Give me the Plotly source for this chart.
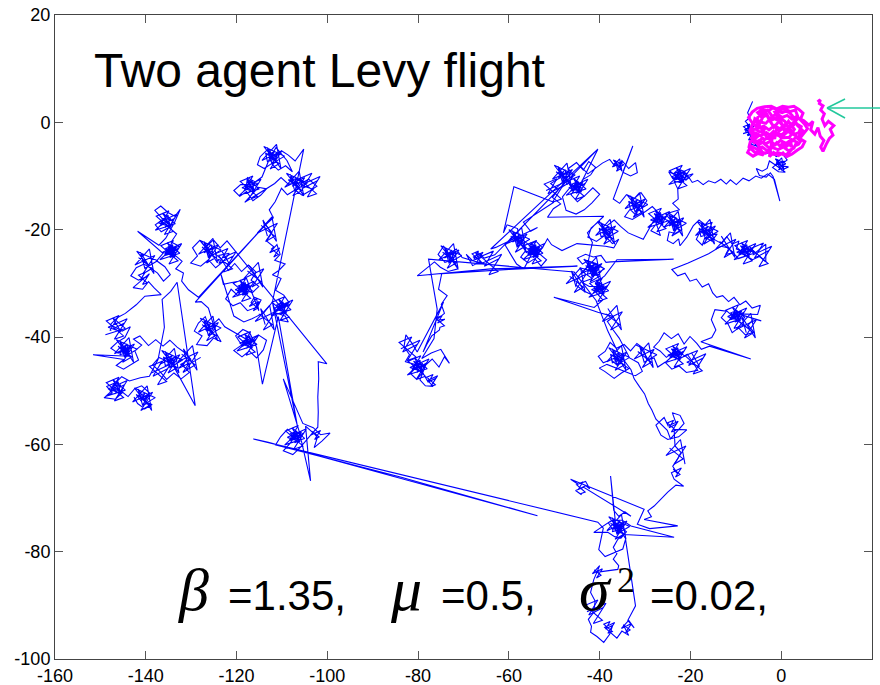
import plotly.graph_objects as go

# ---------------- data ----------------
x_ticks = [-160, -140, -120, -100, -80, -60, -40, -20, 0, 20]
y_ticks = [-100, -80, -60, -40, -20, 0, 20]
x_range = [-160, 20]
y_range = [-100, 20]

title_text = "Two agent Levy flight"

# agent 1 (blue) path
blue_path = [
    # top-right start
    (-6.3,3.9),(-7.4,1.8),(-6.9,0.9),(-7.9,0.2),(-7.1,-0.6),
    (-6.3,-1.0),(-7.9,-1.7),(-6.9,-0.3),(-8.3,-0.8),(-6.4,-2.2),(-7.4,-2.5),(-5.9,-0.5),(-8.1,-1.4),
    (-6.7,-1.8),(-7.6,-0.5),(-6.2,-1.5),(-8.4,-2.1),
    (-6.8,-1.7),(-7.5,-2.4),(-6.4,-2.1),
    (-7.2,-3.3),(-5.9,-3.0),(-6.6,-4.1),(-5.4,-4.4),(-6.1,-3.6),(-4.9,-5.0),
    (-3.4,-5.9),(-2.2,-5.5),(-1.1,-6.4),(0.2,-5.8),(1.3,-7.0),(0.4,-7.6),
    (-1.1,-7.4),(0.4,-8.4),(-0.6,-8.9),(0.7,-7.2),(-1.5,-8.1),(0.1,-6.6),(0.6,-8.9),(-0.9,-6.9),
    (-0.4,-8.4),(1.0,-7.7),(-1.3,-6.8),(-0.1,-8.1),
    (1.6,-8.3),(0.1,-8.9),(-0.8,-7.7),
    (-1.9,-8.4),(-0.6,-9.2),(0.9,-9.3),(-1.2,-8.0),(-2.6,-7.2),(-3.1,-8.6),
    (-4.2,-9.1),(-5.5,-8.6),(-4.8,-9.9),(-3.3,-10.2),(-2.4,-9.4),(-1.8,-10.1),(-0.3,-14.7),(-1.5,-10.6),
    (-3.0,-9.6),(-4.4,-10.4),(-5.6,-10.0),
    (-7.1,-10.9),(-8.4,-10.4),(-9.9,-11.6),(-11.2,-10.7),(-12.1,-11.5),(-13.3,-10.6),(-14.6,-11.3),
    (-16.0,-10.9),(-17.2,-11.6),(-18.4,-10.8),(-19.6,-11.2),(-20.3,-10.3),
    (-21.5,-9.1),(-22.6,-8.7),(-23.8,-9.6),(-24.8,-9.2),(-23.9,-10.5),(-22.4,-10.1),
    (-21.5,-9.7),(-23.1,-10.4),(-22.1,-9.0),(-23.5,-9.5),(-21.6,-10.9),(-22.6,-11.2),(-21.1,-9.2),
    (-23.3,-10.1),(-21.9,-10.5),(-22.8,-9.2),(-21.4,-10.2),(-23.6,-10.8),
    (-20.6,-9.4),(-23.8,-10.8),(-21.8,-8.0),(-24.6,-9.0),(-20.8,-11.8),(-22.8,-12.4),(-20.0,-8.6),
    (-24.2,-10.2),(-21.4,-11.0),(-23.2,-8.4),(-20.4,-10.4),(-24.8,-11.6),(-22.2,-9.6),
    (-21.0,-10.8),(-19.4,-9.6),
    (-20.6,-9.9),(-22.1,-11.2),(-23.6,-11.0),(-22.8,-12.4),(-22.7,-14.3),
    (-23.9,-15.1),(-22.4,-16.3),(-24.8,-16.9),(-23.2,-17.8),
    (-24.3,-18.6),(-22.8,-19.6),(-23.8,-20.1),(-22.5,-18.4),(-24.7,-19.3),(-23.1,-17.8),(-22.6,-20.1),
    (-24.1,-18.1),(-23.6,-19.6),(-22.2,-18.9),(-24.5,-18.0),(-23.3,-19.3),
    (-25.1,-18.2),(-22.1,-20.2),(-24.1,-21.2),(-21.5,-17.8),(-25.9,-19.6),(-22.7,-16.6),(-21.7,-21.2),
    (-24.7,-17.2),(-23.7,-20.2),(-20.9,-18.8),(-25.5,-17.0),(-23.1,-19.6),
    (-25.0,-18.6),(-23.6,-19.4),(-22.2,-18.5),
    (-21.9,-20.0),(-23.4,-20.7),(-24.7,-20.4),(-25.1,-22.0),(-23.8,-22.6),(-22.6,-21.7),(-22.3,-23.0),
    (-20.8,-21.4),(-19.4,-19.3),(-18.1,-18.2),(-16.7,-19.1),(-15.2,-18.6),(-15.9,-20.1),
    (-15.6,-20.2),(-17.2,-20.9),(-16.2,-19.5),(-17.6,-20.0),(-15.7,-21.4),(-16.7,-21.7),(-15.2,-19.7),
    (-17.4,-20.6),(-16.0,-21.0),(-16.9,-19.7),(-15.5,-20.7),(-17.7,-21.3),
    (-18.1,-19.7),(-15.1,-21.7),(-17.1,-22.7),(-14.5,-19.3),(-18.9,-21.1),(-15.7,-18.1),(-14.7,-22.7),
    (-17.7,-18.7),(-16.7,-21.7),(-13.9,-20.3),(-18.5,-18.5),(-16.1,-21.1),
    (-14.1,-20.8),(-15.3,-22.1),(-16.8,-21.4),(-17.4,-22.9),(-18.7,-21.8),(-17.9,-20.4),(-16.2,-20.0),
    (-14.6,-21.9),(-13.1,-22.6),(-12.0,-21.3),(-10.8,-22.7),(-9.3,-22.1),(-9.9,-23.6),(-8.2,-24.2),
    (-8.8,-23.6),(-7.3,-24.6),(-8.3,-25.1),(-7.0,-23.4),(-9.2,-24.3),(-7.6,-22.8),(-7.1,-25.1),(-8.6,-23.1),
    (-8.1,-24.6),(-6.7,-23.9),(-9.0,-23.0),(-7.8,-24.3),
    (-6.2,-23.4),(-9.4,-24.8),(-7.4,-22.0),(-10.2,-23.0),(-6.4,-25.8),(-8.4,-26.4),(-5.6,-22.6),
    (-9.8,-24.2),(-7.0,-25.0),(-8.8,-22.4),(-6.0,-24.4),(-10.4,-25.6),(-7.8,-23.6),
    (-7.0,-23.1),(-5.8,-24.4),(-4.6,-23.6),(-3.4,-22.7),(-3.4,-26.0),(-4.8,-25.0),(-6.3,-25.6),(-7.7,-24.9),
    (-9.4,-25.4),(-10.6,-24.3),(-12.2,-24.6),(-11.5,-23.4),(-13.3,-23.1),
    (-16.0,-24.5),(-20.5,-26.2),(-24.1,-27.4),(-22.8,-28.6),(-21.2,-28.1),(-20.1,-29.6),(-18.7,-29.2),
    (-17.4,-30.7),(-16.0,-30.1),(-15.1,-31.8),(-14.2,-32.6),
    (-12.9,-32.3),(-11.6,-33.4),(-10.4,-32.6),(-9.1,-34.0),(-7.8,-33.3),(-6.4,-34.6),(-4.6,-34.1),(-5.2,-35.8),
    (-9.1,-35.7),(-10.7,-36.4),(-9.7,-35.0),(-11.1,-35.5),(-9.2,-36.9),(-10.2,-37.2),(-8.7,-35.2),
    (-10.9,-36.1),(-9.5,-36.5),(-10.4,-35.2),(-9.0,-36.2),(-11.2,-36.8),
    (-8.2,-35.4),(-11.4,-36.8),(-9.4,-34.0),(-12.2,-35.0),(-8.4,-37.8),(-10.4,-38.4),(-7.6,-34.6),
    (-11.8,-36.2),(-9.0,-37.0),(-10.8,-34.4),(-8.0,-36.4),(-12.4,-37.6),(-9.8,-35.6),
    (-4.4,-37.0),(-6.1,-36.6),(-7.3,-37.8),(-6.0,-39.1),(-7.9,-39.6),(-9.4,-38.3),(-10.8,-39.2),(-11.7,-37.6),
    (-13.2,-36.4),(-12.1,-35.2),(-14.6,-34.9),(-15.4,-36.8),(-14.4,-38.7),(-15.3,-40.1),
    (-17.7,-40.9),(-6.7,-44.1),(-15.8,-41.7),(-17.6,-42.3),
    (-18.6,-41.2),(-20.1,-39.9),(-21.4,-41.3),(-22.7,-39.4),(-24.2,-40.3),(-25.8,-39.2),(-26.9,-40.8),
    (-28.1,-41.9),(-26.7,-42.6),(-25.3,-43.8),(-23.6,-42.7),
    (-24.0,-42.8),(-22.5,-43.8),(-23.5,-44.3),(-22.2,-42.6),(-24.4,-43.5),(-22.8,-42.0),(-22.3,-44.3),
    (-23.8,-42.3),(-23.3,-43.8),(-21.9,-43.1),(-24.2,-42.2),(-23.0,-43.5),
    (-21.4,-42.6),(-24.6,-44.0),(-22.6,-41.2),(-25.4,-42.2),(-21.6,-45.0),(-23.6,-45.6),(-20.8,-41.8),
    (-25.0,-43.4),(-22.2,-44.2),(-24.0,-41.6),(-21.2,-43.6),(-25.6,-44.8),(-23.0,-42.8),
    (-22.4,-44.1),(-20.7,-43.2),(-19.3,-44.9),
    (-18.4,-46.2),(-20.9,-46.6),(-22.5,-45.4),(-24.1,-46.0),(-25.6,-44.7),(-27.2,-45.6),(-28.0,-43.9),
    (-29.6,-44.3),(-30.4,-42.1),(-31.8,-41.2),(-33.2,-42.6),(-34.6,-41.4),(-36.3,-42.1),(-37.7,-41.0),
    (-38.8,-42.7),(-40.3,-43.6),(-39.2,-44.8),(-37.5,-44.2),(-36.1,-45.3),(-34.8,-44.1),
    (-35.1,-43.7),(-36.7,-44.4),(-35.7,-43.0),(-37.1,-43.5),(-35.2,-44.9),(-36.2,-45.2),(-34.7,-43.2),
    (-36.9,-44.1),(-35.5,-44.5),(-36.4,-43.2),(-35.0,-44.2),(-37.2,-44.8),
    (-37.6,-43.2),(-34.6,-45.2),(-36.6,-46.2),(-34.0,-42.8),(-38.4,-44.6),(-35.2,-41.6),(-34.2,-46.2),
    (-37.2,-42.2),(-36.2,-45.2),(-33.4,-43.8),(-38.0,-42.0),(-35.6,-44.6),
    (-33.6,-45.9),(-35.2,-46.7),(-36.8,-47.7),(-38.9,-46.4),(-40.1,-45.8),(-38.4,-45.1),(-32.1,-47.2),
    (-30.6,-46.4),(-31.5,-44.8),(-33.4,-43.9),
    (-35.7,-40.2),(-37.1,-38.6),(-38.3,-37.1),(-36.9,-36.2),(-40.4,-35.4),(-50.1,-32.6),(-41.2,-34.5),
    (-39.3,-33.1),(-40.8,-31.7),
    (-40.8,-30.6),(-39.3,-31.6),(-40.3,-32.1),(-39.0,-30.4),(-41.2,-31.3),(-39.6,-29.8),(-39.1,-32.1),
    (-40.6,-30.1),(-40.1,-31.6),(-38.7,-30.9),(-41.0,-30.0),(-39.8,-31.3),
    (-38.2,-30.4),(-41.4,-31.8),(-39.4,-29.0),(-42.2,-30.0),(-38.4,-32.8),(-40.4,-33.4),(-37.6,-29.6),
    (-41.8,-31.2),(-39.0,-32.0),(-40.8,-29.4),(-38.0,-31.4),(-42.4,-32.6),(-39.8,-30.6),
    (-42.3,-30.6),(-43.9,-29.8),(-41.6,-29.1),(-43.2,-28.2),(-44.4,-27.1),(-42.0,-27.6),
    (-40.6,-27.2),(-42.2,-27.9),(-41.2,-26.5),(-42.6,-27.0),(-40.7,-28.4),(-41.7,-28.7),(-40.2,-26.7),
    (-42.4,-27.6),(-41.0,-28.0),(-41.9,-26.7),(-40.5,-27.7),(-42.7,-28.3),
    (-42.3,-27.1),(-40.8,-28.1),(-41.8,-28.6),(-40.5,-26.9),(-42.7,-27.8),(-41.1,-26.3),(-40.6,-28.6),
    (-42.1,-26.6),(-41.6,-28.1),(-40.2,-27.4),(-42.5,-26.5),(-41.3,-27.8),
    (-43.1,-26.7),(-40.1,-28.7),(-42.1,-29.7),(-39.5,-26.3),(-43.9,-28.1),(-40.7,-25.1),(-39.7,-29.7),
    (-42.7,-25.7),(-41.7,-28.7),(-38.9,-27.3),(-43.5,-25.5),(-41.1,-28.1),
    (-40.3,-28.4),(-39.1,-27.2),(-40.8,-26.3),(-42.6,-25.8),(-43.8,-26.4),(-44.9,-25.3),(-43.1,-24.6),
    (-41.4,-25.1),(-39.7,-24.8),(-38.6,-26.1),(-37.6,-26.0),(-23.7,-25.5),(-36.2,-25.6),(-38.9,-28.6),
    (-40.9,-29.9),(-39.6,-30.8),(-41.8,-32.1),(-43.6,-31.4),(-45.2,-30.3),(-44.6,-28.6),(-42.8,-27.0),
    (-41.6,-22.4),(-42.7,-20.6),(-41.2,-19.2),(-39.1,-17.5),(-51.5,-17.7),(-50.2,-16.1),
    (-48.6,-15.2),(-50.4,-14.0),(-49.1,-12.6),(-50.8,-11.4),(-48.7,-10.3),
    (-48.8,-9.6),(-47.3,-10.6),(-48.3,-11.1),(-47.0,-9.4),(-49.2,-10.3),(-47.6,-8.8),(-47.1,-11.1),
    (-48.6,-9.1),(-48.1,-10.6),(-46.7,-9.9),(-49.0,-9.0),(-47.8,-10.3),
    (-49.6,-9.2),(-46.6,-11.2),(-48.6,-12.2),(-46.0,-8.8),(-50.4,-10.6),(-47.2,-7.6),(-46.2,-12.2),
    (-49.2,-8.2),(-48.2,-11.2),(-45.4,-9.8),(-50.0,-8.0),(-47.6,-10.6),
    (-47.2,-11.6),(-45.8,-10.0),
    (-46.9,-8.6),(-45.1,-7.5),(-43.6,-8.9),(-42.4,-7.3),(-40.9,-8.4),(-42.0,-9.8),(-43.8,-10.7),(-44.6,-12.4),
    (-44.1,-11.7),(-45.7,-12.4),(-44.7,-11.0),(-46.1,-11.5),(-44.2,-12.9),(-45.2,-13.2),(-43.7,-11.2),
    (-45.9,-12.1),(-44.5,-12.5),(-45.4,-11.2),(-44.0,-12.2),(-46.2,-12.8),
    (-43.2,-11.4),(-46.4,-12.8),(-44.4,-10.0),(-47.2,-11.0),(-43.4,-13.8),(-45.4,-14.4),(-42.6,-10.6),
    (-46.8,-12.2),(-44.0,-13.0),(-45.8,-10.4),(-43.0,-12.4),(-47.4,-13.6),(-44.8,-11.6),
    (-46.3,-13.5),(-44.9,-14.8),(-43.2,-13.6),(-41.5,-12.2),(-40.0,-13.4),(-41.7,-15.0),(-43.4,-16.3),
    (-45.2,-17.1),(-47.4,-16.4),(-48.2,-13.9),(-46.4,-12.0),(-44.2,-11.5),
    (-40.4,-5.0),(-44.2,-8.2),(-42.6,-9.6),
    (-39.4,-7.6),(-37.8,-6.9),(-36.6,-8.2),
    (-36.8,-7.6),(-35.3,-8.6),(-36.3,-9.1),(-35.0,-7.4),(-37.2,-8.3),(-35.6,-6.8),(-35.1,-9.1),(-36.6,-7.1),
    (-36.1,-8.6),(-34.7,-7.9),(-37.0,-7.0),(-35.8,-8.3),
    (-35.1,-7.1),(-33.6,-8.6),(-32.1,-7.5),(-31.7,-9.4),(-33.2,-10.0),
    (-34.9,-9.3),(-32.7,-4.4),(-37.0,-14.3),
    (-35.6,-15.1),(-34.1,-13.5),(-32.4,-14.2),(-30.9,-13.1),(-29.6,-14.6),(-30.7,-16.0),
    (-31.1,-15.2),(-32.7,-15.9),(-31.7,-14.5),(-33.1,-15.0),(-31.2,-16.4),(-32.2,-16.7),(-30.7,-14.7),
    (-32.9,-15.6),(-31.5,-16.0),(-32.4,-14.7),(-31.0,-15.7),(-33.2,-16.3),
    (-33.6,-14.7),(-30.6,-16.7),(-32.6,-17.7),(-30.0,-14.3),(-34.4,-16.1),(-31.2,-13.1),(-30.2,-17.7),
    (-33.2,-13.7),(-32.2,-16.7),(-29.4,-15.3),(-34.0,-13.5),(-31.6,-16.1),
    (-31.9,-17.4),(-33.3,-16.2),(-34.5,-17.6),(-32.8,-18.1),
    (-29.9,-16.6),(-28.4,-15.7),(-27.0,-16.9),(-26.1,-18.3),
    (-27.8,-17.6),(-26.3,-18.6),(-27.3,-19.1),(-26.0,-17.4),(-28.2,-18.3),(-26.6,-16.8),(-26.1,-19.1),
    (-27.6,-17.1),(-27.1,-18.6),(-25.7,-17.9),(-28.0,-17.0),(-26.8,-18.3),
    (-25.2,-17.4),(-28.4,-18.8),(-26.4,-16.0),(-29.2,-17.0),(-25.4,-19.8),(-27.4,-20.4),(-24.6,-16.6),
    (-28.8,-18.2),(-26.0,-19.0),(-27.8,-16.4),(-25.0,-18.4),(-29.4,-19.6),(-26.8,-17.6),
    (-27.6,-19.0),(-28.7,-20.2),(-26.6,-21.1),(-27.9,-18.0),
    (-30.4,-21.8),(-33.7,-20.6),(-35.4,-19.4),(-36.8,-18.2),(-38.4,-19.3),
    (-37.6,-20.2),(-39.2,-20.9),(-38.2,-19.5),(-39.6,-20.0),(-37.7,-21.4),(-38.7,-21.7),(-37.2,-19.7),
    (-39.4,-20.6),(-38.0,-21.0),(-38.9,-19.7),(-37.5,-20.7),(-39.7,-21.3),
    (-40.1,-19.7),(-37.1,-21.7),(-39.1,-22.7),(-36.5,-19.3),(-40.9,-21.1),(-37.7,-18.1),(-36.7,-22.7),
    (-39.7,-18.7),(-38.7,-21.7),(-35.9,-20.3),(-40.5,-18.5),(-38.1,-21.1),
    (-40.1,-18.4),(-41.9,-19.7),
    (-42.6,-21.4),(-40.7,-22.2),(-38.9,-21.1),(-37.2,-22.6),(-35.8,-21.8),(-36.9,-23.4),(-38.7,-23.1),
    (-45.0,-22.6),(-48.3,-23.9),(-50.6,-22.8),(-51.5,-21.7),
    (-52.6,-23.4),(-54.1,-22.1),(-55.6,-23.0),
    (-53.6,-23.7),(-55.2,-24.4),(-54.2,-23.0),(-55.6,-23.5),(-53.7,-24.9),(-54.7,-25.2),(-53.2,-23.2),
    (-55.4,-24.1),(-54.0,-24.5),(-54.9,-23.2),(-53.5,-24.2),(-55.7,-24.8),
    (-55.3,-23.6),(-53.8,-24.6),(-54.8,-25.1),(-53.5,-23.4),(-55.7,-24.3),(-54.1,-22.8),(-53.6,-25.1),
    (-55.1,-23.1),(-54.6,-24.6),(-53.2,-23.9),(-55.5,-23.0),(-54.3,-24.3),
    (-52.7,-23.4),(-55.9,-24.8),(-53.9,-22.0),(-56.7,-23.0),(-52.9,-25.8),(-54.9,-26.4),(-52.1,-22.6),
    (-56.3,-24.2),(-53.5,-25.0),(-55.3,-22.4),(-52.5,-24.4),(-56.9,-25.6),(-54.3,-23.6),
    (-57.2,-21.8),(-56.3,-23.9),(-57.4,-25.1),(-55.8,-26.2),
    (-54.3,-25.4),(-52.9,-26.8),(-51.7,-25.6),(-53.4,-24.4),(-55.0,-24.6),(-56.7,-27.3),(-58.3,-26.4),
    (-59.6,-24.6),(-60.8,-22.9),(-59.4,-21.4),
    (-58.8,-21.6),(-57.3,-22.6),(-58.3,-23.1),(-57.0,-21.4),(-59.2,-22.3),(-57.6,-20.8),(-57.1,-23.1),
    (-58.6,-21.1),(-58.1,-22.6),(-56.7,-21.9),(-59.0,-21.0),(-57.8,-22.3),
    (-59.6,-21.2),(-56.6,-23.2),(-58.6,-24.2),(-56.0,-20.8),(-60.4,-22.6),(-57.2,-19.6),(-56.2,-24.2),
    (-59.2,-20.2),(-58.2,-23.2),(-55.4,-21.8),(-60.0,-20.0),(-57.6,-22.6),
    (-58.1,-19.8),(-60.4,-19.1),(-61.2,-20.6),(-58.9,-12.0),
    (-50.1,-14.9),(-56.8,-18.6),(-55.2,-20.3),(-53.7,-19.6),
    (-62.9,-23.3),(-64.0,-23.6),(-40.4,-5.0),(-63.1,-24.7),
    (-65.4,-25.3),(-66.8,-24.3),
    (-66.1,-24.7),(-67.7,-25.4),(-66.7,-24.0),(-68.1,-24.5),(-66.2,-25.9),(-67.2,-26.2),(-65.7,-24.2),
    (-67.9,-25.1),(-66.5,-25.5),(-67.4,-24.2),(-66.0,-25.2),(-68.2,-25.8),
    (-68.2,-25.6),(-69.4,-24.6),(-68.0,-26.7),(-66.3,-26.0),(-64.8,-26.6),
    (-70.3,-25.2),(-71.6,-23.6),(-73.1,-24.5),
    (-73.8,-24.6),(-72.3,-25.6),(-73.3,-26.1),(-72.0,-24.4),(-74.2,-25.3),(-72.6,-23.8),(-72.1,-26.1),
    (-73.6,-24.1),(-73.1,-25.6),(-71.7,-24.9),(-74.0,-24.0),(-72.8,-25.3),
    (-74.6,-24.2),(-71.6,-26.2),(-73.6,-27.2),(-71.0,-23.8),(-75.4,-25.6),(-72.2,-22.6),(-71.2,-27.2),
    (-74.2,-23.2),(-73.2,-26.2),(-70.4,-24.8),(-75.0,-23.0),(-72.6,-25.6),
    (-74.4,-23.1),(-75.6,-24.6),(-74.1,-26.1),(-72.6,-25.7),
    (-71.2,-27.3),(-73.4,-27.8),(-75.1,-27.0),(-76.4,-26.0),
    (-80.2,-28.6),(-64.0,-27.3),(-44.9,-26.8),(-60.0,-27.4),(-74.8,-28.2),
    (-75.5,-31.1),(-73.6,-32.3),(-74.9,-33.9),(-74.2,-35.6),(-76.1,-36.9),
    (-74.1,-36.7),(-75.7,-37.4),(-74.7,-36.0),(-76.1,-36.5),(-74.2,-37.9),(-75.2,-38.2),
    (-75.3,-38.7),(-77.0,-39.8),
    (-78.1,-41.4),(-78.9,-42.8),(-74.4,-33.5),(-80.2,-42.8),
    (-81.4,-41.1),(-82.7,-39.6),(-83.1,-41.8),(-81.9,-43.3),(-82.8,-44.6),(-80.9,-45.2),
    (-80.8,-45.1),(-79.3,-46.1),(-80.3,-46.6),(-79.0,-44.9),(-81.2,-45.8),(-79.6,-44.3),(-79.1,-46.6),
    (-80.6,-44.6),(-80.1,-46.1),(-78.7,-45.4),(-81.0,-44.5),(-79.8,-45.8),
    (-78.2,-44.9),(-81.4,-46.3),(-79.4,-43.5),(-82.2,-44.5),(-78.4,-47.3),(-80.4,-47.9),(-77.6,-44.1),
    (-81.8,-45.7),(-79.0,-46.5),(-80.8,-43.9),(-78.0,-45.9),(-82.4,-47.1),(-79.8,-45.1),
    (-81.7,-46.8),(-80.3,-47.9),(-79.0,-46.6),(-77.8,-48.4),
    (-76.1,-47.7),(-77.7,-48.4),(-76.7,-47.0),(-78.1,-47.5),(-76.2,-48.9),(-77.2,-49.2),(-75.7,-47.2),(-77.9,-48.1),
    (-76.7,-49.2),(-78.4,-49.1),(-79.6,-48.0),(-78.3,-45.2),
    (-76.9,-44.1),(-75.4,-45.6),(-74.2,-43.7),(-73.1,-44.9),(-75.0,-42.3),(-77.1,-43.0),(-79.2,-44.0),
    (-76.5,-40.3),(-75.8,-34.8),(-77.7,-25.5),(-45.6,-27.9),(-40.8,-33.2),(-38.2,-38.9),(-36.0,-42.8),
    (-33.1,-46.1),(-32.4,-47.8),
    (-31.2,-49.3),(-30.1,-50.6),(-29.3,-52.4),(-28.5,-53.6),(-27.6,-55.3),(-26.4,-56.3),(-25.1,-57.4),(-24.4,-59.0),
    (-23.1,-57.8),(-21.4,-56.1),(-22.3,-54.6),(-24.0,-54.1),
    (-23.1,-56.2),(-24.7,-56.9),(-23.7,-55.5),(-25.1,-56.0),(-23.2,-57.4),(-24.2,-57.7),(-22.7,-55.7),(-24.9,-56.6),
    (-25.8,-55.0),(-27.6,-56.4),(-26.5,-58.3),
    (-25.0,-59.1),(-22.6,-58.6),(-20.8,-57.3),(-23.6,-57.2),
    (-23.4,-60.3),(-22.1,-61.5),(-22.8,-62.7),(-23.9,-64.1),(-22.9,-65.4),
    (-23.8,-64.6),(-22.3,-65.6),(-23.3,-66.1),(-22.0,-64.4),(-24.2,-65.3),
    (-23.6,-66.5),(-21.5,-67.8),
    (-23.2,-67.6),(-25.0,-68.9),(-26.4,-70.2),(-28.0,-71.5),(-29.4,-72.4),(-28.6,-73.5),(-30.2,-74.0),
    (-22.8,-75.2),(-29.0,-75.7),(-31.7,-74.9),
    (-30.2,-72.1),(-46.4,-66.5),(-44.8,-67.4),(-43.1,-66.9),(-42.2,-68.3),
    (-43.1,-67.7),(-44.7,-68.4),(-43.7,-67.0),(-45.1,-67.5),(-43.2,-68.9),(-44.2,-69.2),
    (-44.0,-69.4),(-45.3,-68.6),(-43.5,-68.0),(-33.1,-73.4),
    (-34.4,-72.6),(-35.8,-73.4),(-36.9,-72.3),(-37.6,-65.9),(-36.6,-73.9),(-38.1,-74.6),(-37.2,-75.8),
    (-35.1,-75.2),(-36.7,-75.9),(-35.7,-74.5),(-37.1,-75.0),(-35.2,-76.4),(-36.2,-76.7),(-34.7,-74.7),
    (-36.9,-75.6),(-35.5,-76.0),(-36.4,-74.7),(-35.0,-75.7),(-37.2,-76.3),
    (-36.8,-75.1),(-35.3,-76.1),(-36.3,-76.6),(-35.0,-74.9),(-37.2,-75.8),(-35.6,-74.3),(-35.1,-76.6),
    (-36.6,-74.6),(-36.1,-76.1),(-34.7,-75.4),(-37.0,-74.5),(-35.8,-75.8),
    (-37.6,-74.7),(-34.6,-76.7),(-36.6,-77.7),(-34.0,-74.3),(-38.4,-76.1),(-35.2,-73.1),(-34.2,-77.7),
    (-37.2,-73.7),(-36.2,-76.7),(-33.4,-75.3),(-38.0,-73.5),(-35.6,-76.1),
    (-35.6,-75.2),(-34.1,-76.3),(-35.3,-77.5),(-36.7,-77.2),(-38.2,-76.4),(-41.3,-76.4),(-37.4,-74.2),
    (-35.1,-74.1),(-33.1,-75.2),(-23.6,-77.3),(-34.6,-76.8),(-36.0,-77.7),
    (-37.0,-79.2),(-36.2,-80.4),(-37.0,-81.4),(-35.8,-82.6),(-36.0,-83.3),(-38.1,-83.5),(-40.4,-83.8),
    (-41.2,-83.4),(-39.7,-84.4),(-40.7,-84.9),(-39.4,-83.2),(-41.6,-84.1),(-40.0,-82.6),
    (-41.3,-85.2),(-42.0,-87.6),(-41.0,-89.2),(-41.3,-91.3),(-42.5,-92.6),(-41.8,-93.9),(-42.0,-95.0),
    (-40.6,-95.8),(-39.1,-96.9),(-37.8,-95.4),
    (-37.1,-93.7),(-38.7,-94.4),(-37.7,-93.0),(-39.1,-93.5),(-37.2,-94.9),(-38.2,-95.2),(-36.7,-93.2),(-38.9,-94.1),
    (-36.2,-96.1),(-35.1,-94.8),(-33.6,-95.6),
    (-34.8,-93.6),(-33.3,-94.6),(-34.3,-95.1),(-33.0,-93.4),(-35.2,-94.3),(-33.6,-92.8),
    (-32.4,-94.2),(-33.8,-92.8),(-32.1,-90.1),(-34.3,-77.7),(-34.9,-79.5),(-38.8,-80.9),(-40.2,-79.6),
    (-39.2,-75.6),(-40.4,-74.5),(-116.3,-59.0),(-113.0,-59.6),(-53.7,-73.3),(-83.9,-66.1),(-111.4,-60.1),
    # left structure
    (-110.3,-58.6),(-108.8,-57.2),(-107.1,-58.4),
    (-106.1,-58.2),(-107.7,-58.9),(-106.7,-57.5),(-108.1,-58.0),(-106.2,-59.4),(-107.2,-59.7),(-105.7,-57.7),
    (-107.9,-58.6),(-106.5,-59.0),(-107.4,-57.7),(-106.0,-58.7),(-108.2,-59.3),
    (-105.2,-57.9),(-108.4,-59.3),(-106.4,-56.5),(-109.2,-57.5),(-105.4,-60.3),(-107.4,-60.9),(-104.6,-57.1),
    (-108.8,-58.7),(-106.0,-59.5),(-107.8,-56.9),(-105.0,-58.9),(-109.4,-60.1),(-106.8,-58.1),
    (-108.3,-59.9),(-109.7,-61.2),(-107.6,-61.9),(-106.0,-60.6),
    (-104.6,-59.1),(-103.2,-57.8),(-104.8,-56.6),(-103.7,-66.8),(-106.2,-57.6),(-109.7,-47.8),(-105.4,-56.1),
    (-103.1,-56.9),(-101.5,-58.2),(-99.4,-57.9),(-101.2,-59.4),(-102.9,-60.6),(-102.2,-58.7),
    (-103.3,-57.6),(-101.8,-58.6),(-102.8,-59.1),(-101.5,-57.4),(-103.7,-58.3),(-102.1,-56.8),
    (-102.0,-54.0),(-102.1,-51.2),(-101.9,-47.8),(-102.0,-44.6),
    (-100.1,-45.0),(-122.1,-22.1),
    (-123.6,-23.4),(-125.1,-21.9),(-126.6,-23.1),
    (-126.8,-23.6),(-125.3,-24.6),(-126.3,-25.1),(-125.0,-23.4),(-127.2,-24.3),(-125.6,-22.8),(-125.1,-25.1),
    (-126.6,-23.1),(-126.1,-24.6),
    (-127.6,-23.2),(-124.6,-25.2),(-126.6,-26.2),(-124.0,-22.8),(-128.4,-24.6),(-125.2,-21.6),(-124.2,-26.2),
    (-127.2,-22.2),(-126.2,-25.2),(-123.4,-23.8),(-128.0,-22.0),(-125.6,-24.6),
    (-128.1,-22.0),(-129.7,-23.4),(-128.6,-24.9),(-130.1,-26.2),
    (-127.9,-26.8),(-126.2,-25.6),(-124.6,-27.1),(-122.9,-25.9),(-121.6,-24.4),(-123.9,-24.8),
    (-121.8,-27.6),(-120.4,-26.3),(-118.9,-27.8),(-117.4,-26.6),(-115.7,-27.9),(-116.8,-29.4),(-115.1,-30.6),
    (-116.6,-31.8),(-118.3,-30.7),
    (-117.6,-30.7),(-119.2,-31.4),(-118.2,-30.0),(-119.6,-30.5),(-117.7,-31.9),(-118.7,-32.2),(-117.2,-30.2),
    (-119.4,-31.1),(-118.0,-31.5),(-118.9,-30.2),(-117.5,-31.2),(-119.7,-31.8),
    (-119.3,-30.6),(-117.8,-31.6),(-118.8,-32.1),(-117.5,-30.4),(-119.7,-31.3),(-118.1,-29.8),(-117.6,-32.1),
    (-119.1,-30.1),(-118.6,-31.6),
    (-116.7,-30.4),(-119.9,-31.8),(-117.9,-29.0),(-120.7,-30.0),(-116.9,-32.8),(-118.9,-33.4),(-116.1,-29.6),
    (-120.3,-31.2),(-117.5,-32.0),(-119.3,-29.4),(-116.5,-31.4),(-120.9,-32.6),(-118.3,-30.6),
    (-119.7,-32.3),(-121.2,-31.1),(-122.4,-32.9),(-120.8,-34.2),(-119.2,-33.6),
    (-117.6,-35.1),(-115.4,-34.4),(-114.6,-33.1),(-116.1,-32.6),
    (-116.8,-33.6),(-115.3,-34.6),(-116.3,-35.1),(-115.0,-33.4),(-117.2,-34.3),(-115.6,-32.8),(-115.1,-35.1),
    (-117.8,-29.1),(-119.6,-29.6),(-121.3,-29.9),
    (-122.9,-30.2),(-123.4,-28.4),(-120.6,-36.1),(-118.4,-37.2),(-116.6,-36.6),(-114.0,-35.5),(-112.1,-33.5),
    (-105.2,-5.0),(-107.1,-7.2),
    (-108.6,-6.1),(-110.1,-5.3),(-111.7,-6.5),
    (-111.1,-6.2),(-112.7,-6.9),(-111.7,-5.5),(-113.1,-6.0),(-111.2,-7.4),(-112.2,-7.7),(-110.7,-5.7),
    (-112.9,-6.6),(-111.5,-7.0),(-112.4,-5.7),(-111.0,-6.7),(-113.2,-7.3),
    (-113.6,-5.7),(-110.6,-7.7),(-112.6,-8.7),(-110.0,-5.3),(-114.4,-7.1),(-111.2,-4.1),(-110.2,-8.7),
    (-113.2,-4.7),(-112.2,-7.7),(-109.4,-6.3),(-114.0,-4.5),(-111.6,-7.1),
    (-113.2,-5.1),(-114.8,-6.4),(-115.4,-7.9),(-113.9,-8.6),
    (-112.3,-7.7),(-110.8,-8.9),(-109.2,-8.1),(-107.7,-9.2),(-108.9,-7.1),(-111.3,-4.7),(-112.8,-6.9),
    (-114.4,-10.2),(-115.9,-11.1),(-117.6,-10.3),
    (-117.8,-11.6),(-116.3,-12.6),(-117.3,-13.1),(-116.0,-11.4),(-118.2,-12.3),(-116.6,-10.8),(-116.1,-13.1),(-117.6,-11.1),
    (-115.2,-11.4),(-118.4,-12.8),(-116.4,-10.0),(-119.2,-11.0),(-115.4,-13.8),(-117.4,-14.4),(-114.6,-10.6),
    (-118.8,-12.2),(-116.0,-13.0),(-117.8,-10.4),(-115.0,-12.4),(-119.4,-13.6),(-116.8,-11.6),
    (-119.1,-11.6),(-120.6,-12.7),(-119.3,-13.8),(-117.8,-12.9),
    (-116.4,-14.6),(-114.7,-13.6),(-113.4,-12.4),(-115.2,-12.1),(-118.2,-14.9),
    (-111.6,-11.4),(-110.2,-10.3),(-108.6,-11.5),
    (-106.1,-11.2),(-107.7,-11.9),(-106.7,-10.5),(-108.1,-11.0),(-106.2,-12.4),(-107.2,-12.7),(-105.7,-10.7),
    (-108.6,-10.7),(-105.6,-12.7),(-107.6,-13.7),(-105.0,-10.3),(-109.4,-12.1),(-106.2,-9.1),(-105.2,-13.7),
    (-108.2,-9.7),(-107.2,-12.7),(-104.4,-11.3),(-109.0,-9.5),(-106.6,-12.1),
    (-107.2,-10.1),(-105.6,-11.3),(-104.1,-10.6),(-102.3,-11.9),
    (-103.9,-12.8),(-105.5,-13.6),(-107.1,-12.6),(-108.8,-13.5),(-110.1,-12.3),
    (-111.5,-14.8),(-112.8,-16.3),(-111.9,-17.8),(-113.6,-19.1),(-112.2,-20.6),(-113.4,-22.1),(-111.8,-23.2),
    (-112.3,-23.6),(-110.8,-24.6),(-111.8,-25.1),(-110.5,-23.4),(-112.7,-24.3),(-111.1,-22.8),
    (-110.4,-24.6),(-111.6,-25.7),(-109.3,-26.4),(-110.7,-27.6),(-112.1,-28.4),(-110.2,-29.1),
    (-111.4,-31.3),(-109.6,-32.2),(-108.4,-33.6),(-110.1,-34.6),
    (-109.1,-34.2),(-110.7,-34.9),(-109.7,-33.5),(-111.1,-34.0),(-109.2,-35.4),(-110.2,-35.7),(-108.7,-33.7),(-110.9,-34.6),
    (-108.2,-33.9),(-111.4,-35.3),(-109.4,-32.5),(-112.2,-33.5),(-108.4,-36.3),(-110.4,-36.9),(-107.6,-33.1),
    (-111.8,-34.7),(-109.0,-35.5),(-110.8,-32.9),(-108.0,-34.9),(-112.4,-36.1),(-109.8,-34.1),
    (-111.8,-35.4),(-109.3,-36.1),(-108.6,-37.2),
    (-110.9,-36.8),(-112.1,-33.5),
    (-106.6,-56.6),(-110.8,-36.2),(-114.3,-48.8),(-115.6,-41.9),
    (-117.1,-39.2),(-118.6,-38.6),(-120.2,-39.8),(-119.1,-41.2),
    (-118.3,-40.6),(-116.8,-41.6),(-117.8,-42.1),(-116.5,-40.4),(-118.7,-41.3),(-117.1,-39.8),(-116.6,-42.1),
    (-118.1,-40.1),(-117.6,-41.6),
    (-115.7,-40.4),(-118.9,-41.8),(-116.9,-39.0),(-119.7,-40.0),(-115.9,-42.8),(-117.9,-43.4),(-115.1,-39.6),
    (-119.3,-41.2),(-116.5,-42.0),(-118.3,-39.4),(-115.5,-41.4),(-119.9,-42.6),(-117.3,-40.6),
    (-120.6,-42.5),(-118.8,-43.7),(-117.2,-42.6),
    (-115.6,-43.9),(-114.1,-42.4),(-113.4,-40.6),(-115.2,-39.6),(-116.9,-40.9),
    (-122.6,-38.1),(-123.9,-36.6),(-125.4,-37.8),
    (-125.1,-38.2),(-126.7,-38.9),(-125.7,-37.5),(-127.1,-38.0),(-125.2,-39.4),(-126.2,-39.7),(-124.7,-37.7),
    (-126.9,-38.6),(-125.5,-39.0),
    (-127.6,-37.7),(-124.6,-39.7),(-126.6,-40.7),(-124.0,-37.3),(-128.4,-39.1),(-125.2,-36.1),(-124.2,-40.7),
    (-127.2,-36.7),(-126.2,-39.7),(-123.4,-38.3),(-128.0,-36.5),(-125.6,-39.1),
    (-126.9,-36.2),(-128.4,-37.4),(-129.3,-38.9),(-127.6,-39.8),
    (-128.8,-41.4),(-126.5,-41.6),(-125.1,-40.2),(-123.4,-40.9),(-124.6,-39.1),(-126.2,-34.6),(-127.8,-33.4),
    (-129.1,-33.5),
    (-111.9,-17.5),(-128.4,-32.6),
    (-130.6,-31.2),(-132.1,-29.6),(-131.7,-28.1),(-133.4,-27.3),(-132.0,-25.9),(-133.8,-24.6),
    (-133.6,-23.7),(-135.2,-24.4),(-134.2,-23.0),(-135.6,-23.5),(-133.7,-24.9),(-134.7,-25.2),(-133.2,-23.2),
    (-135.4,-24.1),(-134.0,-24.5),(-134.9,-23.2),(-133.5,-24.2),(-135.7,-24.8),
    (-135.3,-23.6),(-133.8,-24.6),(-134.8,-25.1),(-133.5,-23.4),(-135.7,-24.3),(-134.1,-22.8),(-133.6,-25.1),
    (-135.1,-23.1),(-134.6,-24.6),
    (-132.7,-23.4),(-135.9,-24.8),(-133.9,-22.0),(-136.7,-23.0),(-132.9,-25.8),(-134.9,-26.4),(-132.1,-22.6),
    (-136.3,-24.2),(-133.5,-25.0),(-135.3,-22.4),(-132.5,-24.4),(-136.9,-25.6),(-134.3,-23.6),
    (-132.6,-23.1),(-134.4,-22.3),(-133.2,-20.8),(-134.9,-19.6),(-136.6,-20.4),(-137.9,-19.1),
    (-136.3,-18.1),(-134.8,-19.1),(-135.8,-19.6),(-134.5,-17.9),(-136.7,-18.8),(-135.1,-17.3),(-134.6,-19.6),
    (-133.7,-17.9),(-136.9,-19.3),(-134.9,-16.5),(-137.7,-17.5),(-133.9,-20.3),(-135.9,-20.9),(-133.1,-17.1),
    (-137.3,-18.7),(-134.5,-19.5),(-136.3,-16.9),(-133.5,-18.9),(-137.9,-20.1),(-135.3,-18.1),
    (-136.4,-17.9),(-138.0,-16.4),
    (-136.7,-15.6),(-135.1,-16.8),(-133.6,-17.5),(-132.4,-16.2),(-133.7,-18.7),(-135.6,-21.6),(-137.1,-22.9),
    (-141.8,-20.3),(-136.2,-24.4),(-137.6,-25.8),(-135.8,-26.9),(-134.6,-28.4),(-136.1,-29.6),(-137.4,-28.1),
    (-138.9,-27.2),(-140.4,-26.4),(-142.1,-27.1),(-143.3,-28.6),(-141.6,-29.4),
    (-139.6,-28.7),(-141.2,-29.4),(-140.2,-28.0),(-141.6,-28.5),(-139.7,-29.9),(-140.7,-30.2),(-139.2,-28.2),
    (-142.8,-30.8),(-140.7,-31.1),
    (-139.4,-29.7),(-138.1,-30.9),(-136.6,-32.1),
    (-140.2,-32.4),(-142.1,-34.0),(-144.5,-35.6),(-146.3,-36.4),(-147.8,-37.7),(-145.2,-38.9),(-143.4,-38.1),
    (-144.6,-40.1),(-146.2,-40.9),(-147.7,-42.1),(-146.1,-43.0),
    (-143.6,-42.2),(-145.2,-42.9),(-144.2,-41.5),(-145.6,-42.0),(-143.7,-43.4),(-144.7,-43.7),(-143.2,-41.7),
    (-145.4,-42.6),(-144.0,-43.0),(-144.9,-41.7),(-143.5,-42.7),(-145.7,-43.3),
    (-145.3,-42.1),(-143.8,-43.1),(-144.8,-43.6),(-143.5,-41.9),(-145.7,-42.8),(-144.1,-41.3),(-143.6,-43.6),
    (-145.1,-41.6),(-144.6,-43.1),
    (-146.1,-41.7),(-143.1,-43.7),(-145.1,-44.7),(-142.5,-41.3),(-146.9,-43.1),(-143.7,-40.1),(-142.7,-44.7),
    (-145.7,-40.7),(-144.7,-43.7),(-141.9,-42.3),(-146.5,-40.5),(-144.1,-43.1),
    (-143.4,-43.6),(-151.6,-43.3),(-144.8,-44.2),
    (-146.5,-45.3),(-144.9,-46.0),(-143.2,-45.1),(-141.6,-44.3),(-142.4,-42.6),(-140.9,-41.5),(-142.7,-40.4),
    (-141.3,-39.8),
    (-139.4,-41.6),(-137.8,-40.5),(-136.2,-41.7),(-134.7,-40.6),(-133.1,-41.9),(-131.6,-42.8),(-130.1,-44.1),
    (-132.3,-45.1),(-130.8,-46.1),(-131.8,-46.6),(-130.5,-44.9),(-132.7,-45.8),(-131.1,-44.3),
    (-131.8,-45.3),(-130.4,-46.6),(-132.2,-47.8),(-133.8,-46.7),(-135.4,-47.9),(-136.9,-46.4),(-138.5,-45.2),
    (-137.1,-43.8),(-135.3,-44.5),
    (-133.6,-44.2),(-135.2,-44.9),(-134.2,-43.5),(-135.6,-44.0),(-133.7,-45.4),(-134.7,-45.7),(-133.2,-43.7),
    (-135.4,-44.6),(-134.0,-45.0),(-134.9,-43.7),(-133.5,-44.7),(-135.7,-45.3),
    (-136.1,-43.7),(-133.1,-45.7),(-135.1,-46.7),(-132.5,-43.3),(-136.9,-45.1),(-133.7,-42.1),(-132.7,-46.7),
    (-135.7,-42.7),(-134.7,-45.7),(-131.9,-44.3),(-136.5,-42.5),(-134.1,-45.1),
    (-129.1,-52.8),(-133.1,-29.8),(-134.5,-31.5),(-136.4,-33.0),
    (-135.9,-38.2),(-137.3,-44.2),(-139.2,-47.3),
    (-141.2,-47.6),(-143.6,-48.2),(-145.3,-47.4),
    (-147.3,-49.1),(-145.8,-50.1),(-146.8,-50.6),(-145.5,-48.9),(-147.7,-49.8),(-146.1,-48.3),(-145.6,-50.6),
    (-144.7,-48.9),(-147.9,-50.3),(-145.9,-47.5),(-148.7,-48.5),(-144.9,-51.3),(-146.9,-51.9),(-144.1,-48.1),
    (-148.3,-49.7),(-145.5,-50.5),(-147.3,-47.9),(-144.5,-49.9),(-148.9,-51.1),(-146.3,-49.1),
    (-146.9,-48.6),(-148.6,-49.2),(-147.4,-50.4),(-149.2,-51.3),
    (-146.7,-51.6),(-145.1,-50.3),(-143.9,-51.1),
    (-142.4,-49.6),(-140.9,-49.1),(-139.2,-50.4),(-140.4,-51.7),
    (-139.6,-51.2),(-141.2,-51.9),(-140.2,-50.5),(-141.6,-51.0),(-139.7,-52.4),(-140.7,-52.7),(-139.2,-50.7),(-141.4,-51.6),
    (-142.1,-50.7),(-139.1,-52.7),(-141.1,-53.7),(-138.5,-50.3),(-142.9,-52.1),(-139.7,-49.1),(-138.7,-53.7),
    (-141.7,-49.7),(-140.7,-52.7),(-137.9,-51.3),(-142.5,-49.5),(-140.1,-52.1),
    (-138.6,-52.6),(-140.2,-53.4),(-141.8,-52.4),(-142.6,-51.2),
]

# extra tangles of the blue path seen in the picture (drawn as separate pieces)
blue_tangles = [
    [(-141.6,-25.2),(-138.6,-27.2),(-140.6,-28.2),(-138.0,-24.8),(-142.4,-26.6),(-139.2,-23.6),(-138.2,-28.2),
     (-141.2,-24.2),(-140.2,-27.2),(-137.4,-25.8),(-142.0,-24.0),(-139.6,-26.6)],
    [(-144.7,-37.4),(-147.9,-38.8),(-145.9,-36.0),(-148.7,-37.0),(-144.9,-39.8),(-146.9,-40.4),(-144.1,-36.6),
     (-148.3,-38.2),(-145.5,-39.0),(-147.3,-36.4),(-144.5,-38.4),(-148.9,-39.6)],
    [(-132.1,-43.2),(-129.1,-45.2),(-131.1,-46.2),(-128.5,-42.8),(-132.9,-44.6),(-129.7,-41.6),(-128.7,-46.2),
     (-131.7,-42.2),(-130.7,-45.2),(-127.9,-43.8)],
    [(-120.7,-24.9),(-123.9,-26.3),(-121.9,-23.5),(-124.7,-24.5),(-120.9,-27.3),(-122.9,-27.9),(-120.1,-24.1),
     (-124.3,-25.7),(-121.5,-26.5),(-123.3,-23.9)],
    [(-114.6,-19.2),(-111.6,-21.2),(-113.6,-22.2),(-111.0,-18.8),(-115.4,-20.6),(-112.2,-17.6),(-111.2,-22.2),
     (-114.2,-18.2),(-113.2,-21.2)],
    [(-102.2,-10.9),(-105.4,-12.3),(-103.4,-9.5),(-106.2,-10.5),(-102.4,-13.3),(-104.4,-13.9),(-101.6,-10.1),
     (-105.8,-11.7),(-103.0,-12.5)],
    [(-115.1,-35.7),(-112.1,-37.7),(-114.1,-38.7),(-111.5,-35.3),(-115.9,-37.1),(-112.7,-34.1),(-111.7,-38.7),
     (-114.7,-34.7),(-113.7,-37.7)],
    [(-135.2,-45.9),(-138.4,-47.3),(-136.4,-44.5),(-139.2,-45.5),(-135.4,-48.3),(-137.4,-48.9),(-134.6,-45.1),
     (-138.8,-46.7)],
    [(-117.6,-27.7),(-114.6,-29.7),(-116.6,-30.7),(-114.0,-27.3),(-118.4,-29.1),(-115.2,-26.1),(-114.2,-30.7),
     (-117.2,-26.7)],
    [(-62.2,-25.4),(-65.4,-26.8),(-63.4,-24.0),(-66.2,-25.0),(-62.4,-27.8),(-64.4,-28.4),(-61.6,-24.6),(-65.8,-26.2)],
    [(-31.6,-42.7),(-28.6,-44.7),(-30.6,-45.7),(-28.0,-42.3),(-32.4,-44.1),(-29.2,-41.1),(-28.2,-45.7),
     (-31.2,-41.7),(-30.2,-44.7),(-27.4,-43.3),(-32.0,-41.5)],
    [(-17.2,-43.9),(-20.4,-45.3),(-18.4,-42.5),(-21.2,-43.5),(-17.4,-46.3),(-19.4,-46.9),(-16.6,-43.1),
     (-20.8,-44.7),(-18.0,-45.5),(-19.8,-42.9)],
    [(-9.1,-37.2),(-6.1,-39.2),(-8.1,-40.2),(-5.5,-36.8),(-9.9,-38.6),(-6.7,-35.6),(-5.7,-40.2),(-8.7,-36.2),(-7.7,-39.2)],
    [(-2.7,-23.9),(-5.9,-25.3),(-3.9,-22.5),(-6.7,-23.5),(-2.9,-26.3),(-4.9,-26.9),(-2.1,-23.1),(-6.3,-24.7)],
    [(-13.6,-22.2),(-10.6,-24.2),(-12.6,-25.2),(-10.0,-21.8),(-14.4,-23.6),(-11.2,-20.6),(-10.2,-25.2),(-13.2,-21.2)],
    [(-39.2,-90.4),(-42.4,-91.8),(-40.4,-89.0),(-43.2,-90.0),(-39.4,-92.8),(-41.4,-93.4),(-38.6,-89.6),(-42.8,-91.2)],
    [(-24.6,-60.7),(-21.6,-62.7),(-23.6,-63.7),(-21.0,-60.3),(-25.4,-62.1),(-22.2,-59.1),(-21.2,-63.7)],
    [(-80.2,-41.4),(-83.4,-42.8),(-81.4,-40.0),(-84.2,-41.0),(-80.4,-43.8),(-82.4,-44.4),(-79.6,-40.6),(-83.8,-42.2)],
    [(-46.6,-28.7),(-43.6,-30.7),(-45.6,-31.7),(-43.0,-28.3),(-47.4,-30.1),(-44.2,-27.1),(-43.2,-31.7),
     (-46.2,-27.7),(-45.2,-30.7)],
    [(-48.2,-11.9),(-51.4,-13.3),(-49.4,-10.5),(-52.2,-11.5),(-48.4,-14.3),(-50.4,-14.9),(-47.6,-11.1),(-51.8,-12.7)],
    [(-38.6,-35.7),(-35.6,-37.7),(-37.6,-38.7),(-35.0,-35.3),(-39.4,-37.1),(-36.2,-34.1),(-35.2,-38.7),(-38.2,-34.7)],
]

# agent 2 (magenta) path
magenta_path = [
    (0.0,0.0),(-1.2,0.8),(-2.4,0.3),(-3.1,1.4),(-4.3,0.9),(-5.2,1.8),(-4.1,2.4),(-2.9,2.1),(-1.8,2.7),
    (-0.6,2.2),(0.7,2.6),(1.9,2.0),(3.1,2.3),(3.6,1.2),(2.4,0.6),(1.3,1.3),(0.2,0.9),(-0.9,1.6),(-2.0,1.1),
    (-3.4,-0.2),(-4.6,0.1),(-5.8,0.7),(-6.1,-0.4),(-5.0,-1.1),(-3.8,-0.7),(-2.7,-1.4),(-1.5,-0.6),(-0.3,-1.2),
    (0.9,-0.4),(2.1,-0.9),(3.2,-0.2),(4.4,-0.8),(3.9,-1.9),(2.7,-2.3),(1.5,-1.7),(0.4,-2.5),(-0.8,-2.0),
    (-2.1,-2.6),(-3.3,-1.9),(-4.5,-2.5),(-5.6,-2.0),(-6.6,-2.9),(-5.9,-3.8),(-4.7,-3.3),(-3.6,-4.1),(-2.4,-3.5),
    (-1.3,-4.2),(-0.2,-3.4),(1.1,-3.9),(2.3,-3.2),(3.4,-3.7),(2.8,-4.8),(1.6,-5.3),(0.5,-4.6),(-0.7,-5.1),
    (-1.9,-4.7),(-3.1,-5.3),(-4.2,-4.6),(-5.4,-5.0),(-6.7,-4.4),(-7.4,-5.6),(-6.2,-6.3),(-5.1,-5.8),(-3.9,-6.1),
    (-4.6,-4.9),(-5.8,-3.1),(-6.9,-1.6),(-6.3,-0.2),(-7.2,0.9),(-6.4,1.9),(-5.3,2.6),(-3.7,2.9),(-2.2,3.0),
    (-1.0,2.5),(0.3,3.0),(1.6,2.8),(2.8,3.0),(3.9,2.4),(4.8,1.7),(4.2,0.5),(5.1,-0.3),(5.8,-1.2),(4.9,-2.1),
    (4.1,-3.0),(5.2,-3.6),(4.6,-4.6),(3.5,-5.2),(2.4,-5.9),(1.2,-6.4),(0.4,-5.7),(-0.6,-6.2),(-1.7,-5.6),
    (-2.6,-6.4),(-2.0,-3.0),(-1.1,-1.8),(0.0,-2.9),(1.8,-2.8),(2.9,-1.3),(1.6,0.2),(0.6,-0.9),(-0.5,0.2),
    (-1.6,-0.9),(-2.6,0.4),(-3.5,1.9),(-4.9,-0.5),(-3.0,-3.0),(-1.4,-2.9),
    (-1.0,-1.0),(-0.4,-1.6),(0.3,-1.1),(0.9,-1.8),(0.4,-2.2),(-0.3,-2.6),(-1.0,-2.3),(-1.7,-1.7),(-2.3,-2.2),
    (-2.9,-2.8),(-3.6,-3.2),(-4.2,-2.9),(-4.8,-3.6),(-5.3,-4.3),(-4.6,-4.0),(-3.9,-3.6),(-3.2,-4.4),(-2.5,-4.9),
    (-1.7,-4.4),(-1.0,-3.8),(-0.3,-4.4),(0.4,-3.9),(1.0,-4.6),(1.7,-4.1),(2.3,-4.5),(2.1,-3.7),(2.8,-3.2),
    (3.3,-2.6),(2.6,-1.9),(2.0,-1.4),(1.4,-0.8),(0.8,0.2),(0.2,0.5),(-0.4,1.1),(-1.1,0.5),(-1.8,0.9),(-2.4,1.6),
    (-3.0,2.3),(-3.8,2.0),(-4.5,1.5),(-5.1,1.0),(-5.5,0.2),(-5.2,-0.5),(-4.4,-0.9),(-3.7,-1.3),(-4.1,-1.9),
    (-4.9,-1.7),(-5.6,-1.3),(-6.3,-1.2),(-6.0,-2.3),(-5.3,-2.7),(-6.1,-3.3),(-6.8,-3.6),(-7.1,-4.6),(-6.4,-5.1),
    (-5.8,-5.6),(-5.0,-5.3),(-4.3,-5.6),(-3.5,-5.7),(-2.8,-5.5),(-2.2,-5.9),(-1.4,-6.0),(-0.8,-5.6),(0.0,-5.9),
    (0.8,-6.1),(1.5,-5.8),(2.2,-5.2),(3.0,-4.4),(3.8,-4.1),(4.3,-3.5),(3.6,-3.0),(4.0,-2.4),(4.7,-1.5),
    (4.2,-1.1),(3.6,-0.6),(3.0,0.4),(2.4,1.3),(1.8,1.8),(1.0,2.1),(0.2,1.8),(-0.6,2.0),(-1.4,1.9),
    (1.0,-1.5),(2.6,-0.1),(3.8,0.8),(5.0,0.3),(6.1,-0.5),(7.0,0.2),(6.5,-1.4),(7.4,-2.2),(8.1,-1.0),
    (8.6,-2.6),(9.4,-3.4),(8.7,-4.6),(9.2,-5.4),(9.9,-4.1),(10.6,-3.0),(11.4,-2.4),(10.8,-1.3),(11.6,-0.6),
    (10.4,0.2),(9.6,-0.6),(9.0,0.6),(9.5,1.6),(8.7,2.3),(9.2,3.1),(8.4,3.5),(8.6,4.2),(8.0,3.8),
]

param_pieces = ["\u03b2", "=1.35,", "\u03bc", "=0.5,", "\u03c3", "2", "=0.02,"]

# ---------------- figure ----------------
blue_x = [p[0] for p in blue_path]
blue_y = [p[1] for p in blue_path]
tangle_x, tangle_y = [], []
for seg in blue_tangles:
    tangle_x += [p[0] for p in seg] + [None]
    tangle_y += [p[1] for p in seg] + [None]
mag_x = [p[0] for p in magenta_path]
mag_y = [p[1] for p in magenta_path]

fig = go.Figure()
fig.add_trace(go.Scatter(x=blue_x, y=blue_y, mode="lines",
                         line=dict(color="#0000FF", width=1.1), hoverinfo="skip"))
fig.add_trace(go.Scatter(x=tangle_x, y=tangle_y, mode="lines", connectgaps=False,
                         line=dict(color="#0000FF", width=1.1), hoverinfo="skip"))
fig.add_trace(go.Scatter(x=mag_x, y=mag_y, mode="lines",
                         line=dict(color="#FF00FF", width=3.0), hoverinfo="skip"))

SANS = "Liberation Sans, Arial, sans-serif"
SERIF = "Liberation Serif, Times New Roman, serif"

axis_common = dict(
    ticks="inside", ticklen=8, tickcolor="#555555", tickwidth=1,
    showline=True, linecolor="#444444", linewidth=1, mirror="ticks",
    showgrid=False, zeroline=False, automargin=False,
    tickfont=dict(family=SANS, size=18, color="black"),
)
fig.update_xaxes(range=x_range, tickvals=x_ticks, ticktext=[str(v) for v in x_ticks], **axis_common)
fig.update_yaxes(range=y_range, tickvals=y_ticks, ticktext=[str(v) for v in y_ticks], **axis_common)

ann = []
ann.append(dict(text=title_text, x=0.045, y=0.9143, xref="paper", yref="paper",
                xanchor="left", yanchor="middle", showarrow=False,
                font=dict(family=SANS, size=48, color="black")))
# parameter line, pieces placed individually
piece_pos = [
    (0.1481, 0.1075, SERIF, 60, True),
    (0.2093, 0.0988, SANS, 42, False),
    (0.4076, 0.1085, SERIF, 62, True),
    (0.4700, 0.0988, SANS, 42, False),
    (0.6390, 0.1085, SERIF, 62, True),
    (0.6855, 0.1229, SERIF, 36, False),
    (0.7258, 0.0988, SANS, 42, False),
]
for txt, (px, py, fam, sz, ital) in zip(param_pieces, piece_pos):
    ann.append(dict(text=f"<i>{txt}</i>" if ital else txt, x=px, y=py,
                    xref="paper", yref="paper", xanchor="left", yanchor="middle",
                    showarrow=False, font=dict(family=fam, size=sz, color="black")))

arrow_col = "#22C89C"
shapes = [
    dict(type="line", xref="paper", yref="paper", x0=0.9449, y0=0.8556, x1=1.012, y1=0.8556,
         line=dict(color=arrow_col, width=1.5)),
    dict(type="line", xref="paper", yref="paper", x0=0.9449, y0=0.8556, x1=0.967, y1=0.8696,
         line=dict(color=arrow_col, width=1.5)),
    dict(type="line", xref="paper", yref="paper", x0=0.9449, y0=0.8556, x1=0.967, y1=0.8401,
         line=dict(color=arrow_col, width=1.5)),
]

fig.update_layout(
    width=880, height=685,
    margin=dict(l=55, r=8, t=15, b=26),
    paper_bgcolor="white", plot_bgcolor="white",
    showlegend=False,
    annotations=ann, shapes=shapes,
)

fig.write_html("out.html", config={"displayModeBar": False},
               post_script="document.body.style.margin='0px';document.body.style.overflow='hidden';")
